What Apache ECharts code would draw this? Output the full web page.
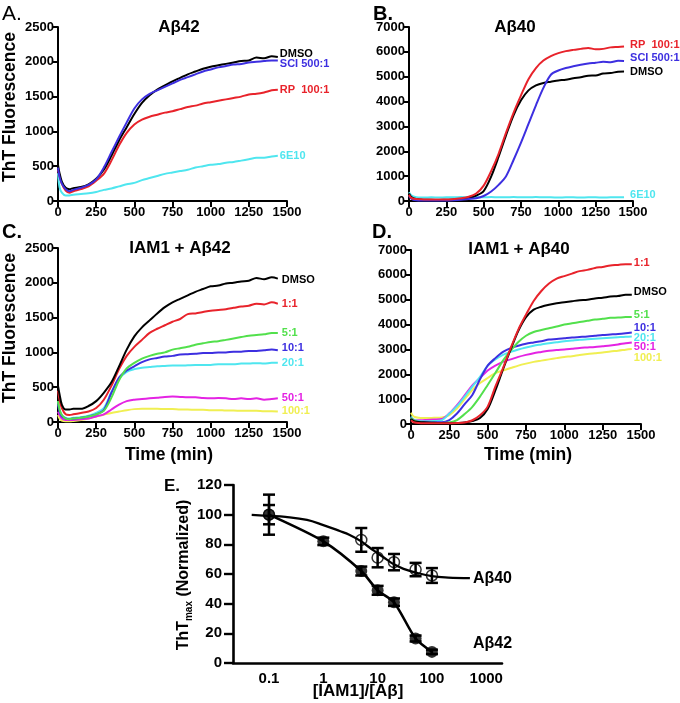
<!DOCTYPE html>
<html>
<head>
<meta charset="utf-8">
<script src="https://cdn.jsdelivr.net/npm/echarts@6/dist/echarts.min.js"></script>
<style>
html,body{margin:0;padding:0;background:#fff;}
#c{width:680px;height:703px;}
</style>
</head>
<body>
<div id="c"></div>
<script>
// ---------- shared time axis (min) ----------
const T = [0,10,25,50,75,100,150,200,250,300,350,400,450,500,550,600,650,700,750,800,850,900,950,1000,1050,1100,1150,1200,1250,1300,1350,1400,1440];

// ---------- Panel A: Aβ42 ----------
const A_DMSO = [520,400,280,190,170,185,200,240,320,450,650,870,1060,1250,1410,1520,1600,1660,1720,1770,1820,1860,1900,1930,1950,1970,1990,2010,2020,2060,2050,2080,2070];
const A_SCI  = [480,350,250,170,140,160,190,230,310,480,700,920,1130,1330,1460,1540,1590,1640,1690,1740,1780,1820,1860,1890,1920,1940,1960,1970,1990,2000,2010,2020,2020];
const A_RP   = [450,360,250,150,120,140,170,210,290,390,580,800,980,1100,1170,1210,1240,1270,1290,1320,1350,1370,1400,1420,1440,1460,1480,1500,1530,1540,1560,1590,1600];
const A_6E10 = [400,200,120,80,80,90,100,110,130,160,180,210,240,260,300,330,360,390,410,430,450,480,500,520,530,550,560,580,600,620,620,640,650];

// ---------- Panel B: Aβ40 ----------
const B_RP   = [250,150,100,80,70,60,60,60,60,80,110,170,300,620,1200,1900,2750,3550,4250,4900,5350,5650,5830,5950,6030,6080,6120,6160,6100,6120,6180,6200,6220];
const B_SCI  = [200,120,60,30,20,20,20,20,20,30,50,80,110,200,380,650,1000,1650,2350,3100,3850,4550,5080,5250,5350,5420,5480,5530,5560,5600,5580,5640,5630];
const B_DMSO = [300,200,120,80,60,50,50,40,50,60,80,120,220,400,980,1780,2650,3450,4050,4450,4650,4750,4800,4850,4880,4940,4980,5040,5050,5130,5150,5200,5210];
const B_6E10 = [350,260,190,150,140,140,150,140,150,150,160,150,160,150,160,150,150,160,150,150,160,150,150,140,150,150,140,150,150,140,150,150,150];

// ---------- Panel C: IAM1 + Aβ42 ----------
const C_DMSO = [520,400,250,180,180,190,190,230,300,420,570,800,1040,1230,1360,1460,1560,1650,1720,1770,1820,1870,1910,1950,1960,1990,2000,2020,2030,2070,2050,2080,2060];
const C_1    = [450,320,200,110,100,110,130,150,200,320,520,760,950,1080,1180,1280,1340,1390,1440,1480,1550,1560,1580,1600,1610,1620,1640,1660,1670,1700,1690,1720,1700];
const C_5    = [300,180,100,50,40,50,60,80,110,160,350,600,770,850,910,950,980,1000,1040,1060,1080,1110,1130,1150,1160,1180,1200,1220,1240,1250,1260,1280,1280];
const C_10   = [250,150,80,50,40,50,60,80,110,170,420,640,740,800,860,900,920,940,950,970,975,980,990,990,1000,1000,1010,1010,1020,1020,1030,1040,1030];
const C_20   = [300,180,100,60,50,60,70,90,130,200,430,620,720,760,780,790,800,805,810,810,815,820,820,820,830,830,830,840,840,845,840,850,850];
const C_50   = [150,100,50,30,30,30,40,50,80,110,180,250,300,320,330,340,350,360,365,360,355,355,345,340,345,340,330,340,330,340,320,330,340];
const C_100  = [100,50,20,10,10,15,30,50,80,105,130,150,170,185,190,190,190,185,185,180,180,175,175,170,170,165,165,160,160,160,155,155,150];

// ---------- Panel D: IAM1 + Aβ40 ----------
const D_1    = [150,100,60,40,30,30,30,30,30,40,60,150,350,700,1500,2250,3050,3800,4400,4950,5350,5650,5850,5950,6050,6150,6200,6280,6320,6380,6400,6430,6430];
const D_DMSO = [200,150,100,80,70,60,50,40,30,40,60,120,240,600,1350,2200,3000,3750,4300,4600,4720,4800,4860,4900,4940,4980,5000,5050,5080,5130,5150,5200,5200];
const D_5    = [250,180,120,80,60,50,50,40,60,160,400,690,1100,1570,2050,2550,2950,3300,3550,3700,3780,3850,3920,4000,4050,4100,4150,4200,4230,4270,4280,4300,4300];
const D_10   = [250,180,120,90,80,80,70,70,160,420,800,1170,1800,2350,2650,2900,3050,3150,3230,3280,3330,3400,3420,3450,3480,3500,3520,3550,3580,3600,3620,3650,3680];
const D_20   = [300,200,150,120,110,110,120,150,420,720,1100,1500,1900,2350,2600,2780,2900,3000,3080,3150,3200,3250,3290,3330,3360,3390,3410,3430,3450,3470,3490,3510,3520];
const D_50   = [250,200,160,150,150,160,180,200,430,760,1150,1550,1850,2150,2350,2500,2600,2700,2780,2850,2900,2950,2980,3000,3030,3060,3080,3100,3130,3160,3200,3250,3280];
const D_100  = [450,350,280,250,240,240,250,260,360,620,1000,1370,1650,1850,2050,2150,2250,2350,2430,2500,2550,2600,2650,2700,2730,2780,2820,2850,2880,2920,2950,2990,3020];

// ---------- Panel E: dose response ----------
const E_RATIO42 = [0.1,1,5,10,20,50,100];
const E_MEAN42  = [100,82,62,49,41,16.5,7.5];
const E_ERR42   = [13.5,2.5,3,3,2.5,2,1.5];
const E_RATIO40 = [0.1,5,10,20,50,100];
const E_MEAN40  = [100,83,71,68,63,59];
const E_ERR40   = [6.5,8,6.5,5.5,4.5,5];
const E_FITX40  = [0.048,0.1,0.2,0.5,1,2,3,5,7,10,15,20,30,50,100,200,500];
const E_FITY40  = [99.8,99.2,98.5,96.5,93,89,86.5,82,78,74,69.5,66.5,63.5,61,58.5,57.6,57.2];
const E_TICKS   = [0.1,1,10,100,1000];

// ---------- styling ----------
const FONT = "'Liberation Sans', Arial, Helvetica, sans-serif";
const COL = {
  black:'#000000', red:'#e8232b', blue:'#3d2fe0', cyan:'#4fe6ef',
  green:'#52e04c', magenta:'#e423e3', yellow:'#f0ef52'
};

const grids = [
  {left:58,  top:27,  width:229, height:174},  // A
  {left:409, top:27,  width:224, height:174},  // B
  {left:58,  top:248, width:229, height:174},  // C
  {left:411, top:250, width:230, height:174},  // D
  {left:233, top:485, width:269, height:178}   // E
].map(g => Object.assign({containLabel:false, outerBoundsMode:'none'}, g));

const axLine = {show:true, onZero:false, lineStyle:{color:'#000', width:2}};
const axTick = {show:true, length:6, inside:false, lineStyle:{color:'#000', width:2}};
const axLineE = {show:true, onZero:false, lineStyle:{color:'#000', width:2.6}};
const axTickE = {show:true, length:9, inside:false, lineStyle:{color:'#000', width:2.4}};
const plain = v => String(v);
const axLab  = {color:'#000', fontFamily:FONT, fontWeight:'bold', fontSize:13, formatter:plain};

function timeX(gi){
  return {type:'value', gridIndex:gi, min:0, max:1500, interval:250,
    axisLine:axLine, axisTick:axTick, axisLabel:Object.assign({}, axLab, {margin:5}),
    splitLine:{show:false}};
}
function fluoY(gi, max, step){
  return {type:'value', gridIndex:gi, min:0, max:max, interval:step,
    axisLine:axLine, axisTick:axTick, axisLabel:Object.assign({}, axLab, {margin:4}),
    splitLine:{show:false}};
}

const xAxes = [timeX(0), timeX(1), timeX(2), timeX(3),
  {type:'value', gridIndex:4, min:-1.663, max:3.29,
   axisLine:axLineE, axisTick:{show:false},
   axisLabel:Object.assign({}, axLab, {margin:8, fontSize:15,
     customValues:E_TICKS.map(v=>Math.log10(v)),
     formatter:v => { const r = Math.pow(10, v); return r < 1 ? r.toFixed(1) : String(Math.round(r)); }}),
   splitLine:{show:false}}
];
const yAxes = [fluoY(0,2500,500), fluoY(1,7000,1000), fluoY(2,2500,500), fluoY(3,7000,1000),
  {type:'value', gridIndex:4, min:0, max:120, interval:20,
   axisLine:axLineE, axisTick:axTickE, axisLabel:Object.assign({}, axLab, {fontSize:15, margin:11}),
   splitLine:{show:false}}
];

function curve(gi, name, vals, color, label, dist, dy){
  return {
    type:'line', xAxisIndex:gi, yAxisIndex:gi, name:name,
    data:T.map((t,i)=>[t, vals[i]]),
    showSymbol:false, smooth:0.3, silent:true, animation:false,
    lineStyle:{color:color, width:2}, itemStyle:{color:color},
    endLabel:{show:true, formatter:label, color:color, fontFamily:FONT, fontWeight:'bold',
      fontSize:11, distance:dist, offset:[0, dy]}
  };
}

const series = [
  // A
  curve(0,'A_6E10',A_6E10,COL.cyan,'6E10',2,0),
  curve(0,'A_RP',A_RP,COL.red,'RP  100:1',2,0),
  curve(0,'A_DMSO',A_DMSO,COL.black,'DMSO',2,-3),
  curve(0,'A_SCI',A_SCI,COL.blue,'SCI 500:1',2,4),
  // B
  curve(1,'B_6E10',B_6E10,COL.cyan,'6E10',6,-2),
  curve(1,'B_DMSO',B_DMSO,COL.black,'DMSO',6,0),
  curve(1,'B_SCI',B_SCI,COL.blue,'SCI 500:1',6,-3),
  curve(1,'B_RP',B_RP,COL.red,'RP  100:1',6,-1),
  // C
  curve(2,'C_100',C_100,COL.yellow,'100:1',4,-1),
  curve(2,'C_50',C_50,COL.magenta,'50:1',4,0),
  curve(2,'C_20',C_20,COL.cyan,'20:1',4,0),
  curve(2,'C_10',C_10,COL.blue,'10:1',4,-2),
  curve(2,'C_5',C_5,COL.green,'5:1',4,0),
  curve(2,'C_1',C_1,COL.red,'1:1',4,0),
  curve(2,'C_DMSO',C_DMSO,COL.black,'DMSO',4,1),
  // D
  curve(3,'D_100',D_100,COL.yellow,'100:1',2,9),
  curve(3,'D_50',D_50,COL.magenta,'50:1',2,5),
  curve(3,'D_20',D_20,COL.cyan,'20:1',2,1),
  curve(3,'D_10',D_10,COL.blue,'10:1',2,-5),
  curve(3,'D_5',D_5,COL.green,'5:1',2,-2),
  curve(3,'D_DMSO',D_DMSO,COL.black,'DMSO',2,-3),
  curve(3,'D_1',D_1,COL.red,'1:1',2,-1)
];

// ---- Panel E ----
function errBars(ratios, means, errs){
  return {
    type:'custom', xAxisIndex:4, yAxisIndex:4, silent:true, animation:false, z:3,
    data:ratios.map((r,i)=>[Math.log10(r), means[i], errs[i]]),
    renderItem:function(params, api){
      const x = api.value(0), m = api.value(1), e = api.value(2);
      const top = api.coord([x, m+e]), bot = api.coord([x, m-e]);
      const w = 6, st = {stroke:'#000', lineWidth:2.5};
      return {type:'group', children:[
        {type:'line', shape:{x1:top[0], y1:top[1], x2:bot[0], y2:bot[1]}, style:st},
        {type:'line', shape:{x1:top[0]-w, y1:top[1], x2:top[0]+w, y2:top[1]}, style:st},
        {type:'line', shape:{x1:bot[0]-w, y1:bot[1], x2:bot[0]+w, y2:bot[1]}, style:st}
      ]};
    }
  };
}
series.push(errBars(E_RATIO40, E_MEAN40, E_ERR40));
series.push(errBars(E_RATIO42, E_MEAN42, E_ERR42));
series.push({
  type:'line', xAxisIndex:4, yAxisIndex:4, silent:true, animation:false, z:4,
  data:E_FITX40.map((r,i)=>[Math.log10(r), E_FITY40[i]]),
  showSymbol:false, smooth:0.4, lineStyle:{color:'#000', width:2.3},
  endLabel:{show:true, formatter:'Aβ40', color:'#000', fontFamily:FONT, fontWeight:'bold', fontSize:16, distance:3, offset:[0,0]}
});
series.push({
  type:'line', xAxisIndex:4, yAxisIndex:4, silent:true, animation:false, z:4,
  data:E_RATIO42.map((r,i)=>[Math.log10(r), E_MEAN42[i]]),
  showSymbol:false, smooth:0.25, lineStyle:{color:'#000', width:2.6},
  endLabel:{show:true, formatter:'Aβ42', color:'#000', fontFamily:FONT, fontWeight:'bold', fontSize:16, distance:41, offset:[0,-8]}
});
series.push({
  type:'scatter', xAxisIndex:4, yAxisIndex:4, silent:true, animation:false, z:5,
  data:E_RATIO40.map((r,i)=>[Math.log10(r), E_MEAN40[i]]),
  symbol:'circle', symbolSize:11,
  itemStyle:{color:'rgba(255,255,255,0)', borderColor:'#000', borderWidth:1.5}
});
series.push({
  type:'scatter', xAxisIndex:4, yAxisIndex:4, silent:true, animation:false, z:6,
  data:E_RATIO42.map((r,i)=>[Math.log10(r), E_MEAN42[i]]),
  symbol:'circle', symbolSize:12, itemStyle:{color:'#000'}
});

// ---------- text (titles, panel letters, axis names) ----------
function txt(text, x, y, size, opts){
  return Object.assign({type:'text', x:x, y:y, silent:true, z:10,
    style:{text:text, fill:'#000', font:'bold '+size+'px '+FONT, textAlign:'center', textVerticalAlign:'middle'}}, opts||{});
}
function letter(text, x, y, weight, size){
  return {type:'text', x:x, y:y, silent:true, z:10,
    style:{text:text, fill:'#000', font:weight+' '+size+'px '+FONT, textAlign:'left', textVerticalAlign:'middle'}};
}
const graphic = [
  letter('A.', 2, 14, 'normal', 21),
  letter('B.', 373, 14, 'bold', 20),
  letter('C.', 2, 232, 'bold', 20),
  letter('D.', 372, 232, 'bold', 20),
  letter('E.', 164, 486, 'bold', 17),
  txt('Aβ42', 179, 27, 17),
  txt('Aβ40', 515, 27, 17),
  txt('IAM1 + Aβ42', 180, 248, 17),
  txt('IAM1 + Aβ40', 519, 249, 17),
  txt('ThT Fluorescence', 10, 107, 17.5, {rotation:Math.PI/2}),
  txt('ThT Fluorescence', 10, 328, 17.5, {rotation:Math.PI/2}),
  txt('Time (min)', 169, 455, 17.5),
  txt('Time (min)', 528, 455, 17.5),
  txt('[IAM1]/[Aβ]', 358, 691, 17),
  {type:'text', x:184, y:575, rotation:Math.PI/2, silent:true, z:10,
   style:{text:'{a|ThT}{b|max}{a| (Normalized)}', textAlign:'center', textVerticalAlign:'middle',
     rich:{
       a:{fontFamily:FONT, fontWeight:'bold', fontSize:16, fill:'#000', lineHeight:20, verticalAlign:'middle'},
       b:{fontFamily:FONT, fontWeight:'bold', fontSize:10, fill:'#000', lineHeight:10, verticalAlign:'bottom', padding:[6,0,0,0]}
     }}}
];

const chart = echarts.init(document.getElementById('c'), null, {renderer:'canvas'});
chart.setOption({
  backgroundColor:'#ffffff',
  animation:false,
  grid:grids, xAxis:xAxes, yAxis:yAxes, series:series, graphic:graphic
});
</script>
</body>
</html>
